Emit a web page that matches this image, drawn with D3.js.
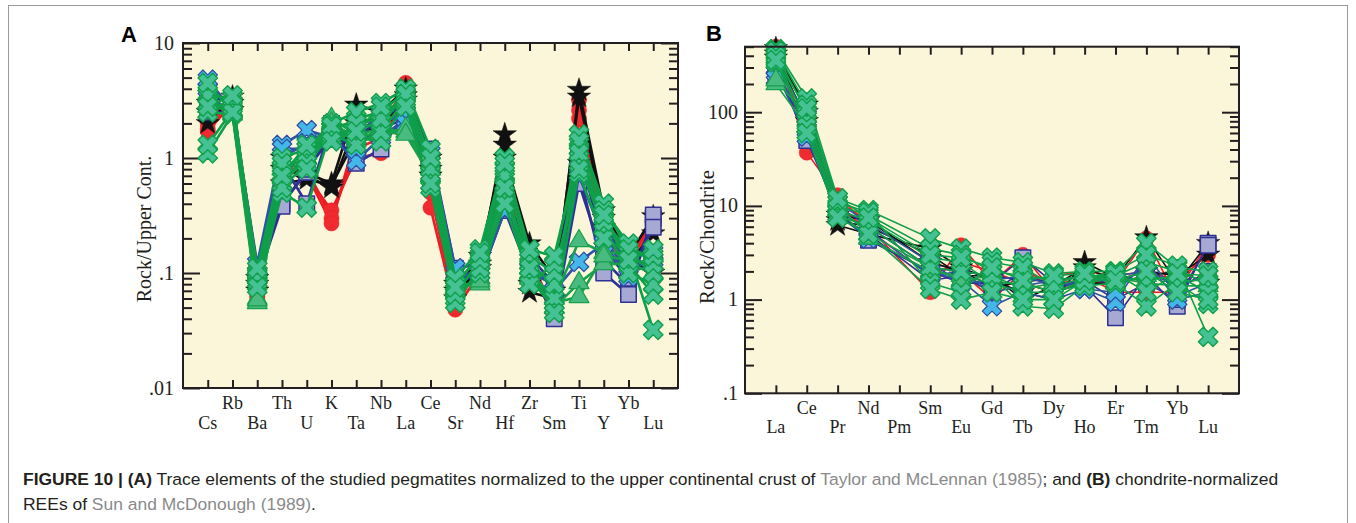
<!DOCTYPE html>
<html><head><meta charset="utf-8">
<script src="https://cdn.jsdelivr.net/npm/d3@7"></script>
<style>body{margin:0;background:#fff}svg{display:block}</style>
</head><body>
<svg id="c" width="1356" height="523"></svg>
<script>
// ---------- DATA ----------
const elementsA = ["Cs","Rb","Ba","Th","U","K","Ta","Nb","La","Ce","Sr","Nd","Hf","Zr","Sm","Ti","Y","Yb","Lu"];
const elementsB = ["La","Ce","Pr","Nd","Pm","Sm","Eu","Gd","Tb","Dy","Ho","Er","Tm","Yb","Lu"];
const yTicksA = [0.01, 0.1, 1, 10];
const yTickLabelsA = [".01", ".1", "1", "10"];
const yTicksB = [0.1, 1, 10, 100];
const yTickLabelsB = [".1", "1", "10", "100"];

// Panel A: rock / upper continental crust
const redCirclesA = [
  [1.7, 3.0, 0.058, 0.9, 0.7, 0.35, 1.0, 1.1, 4.5, 0.37, 0.048, 0.1, 1.0, 0.12, 0.04, 3.2, 0.3, 0.12, 0.3],
  [2.0, 2.8, 0.062, 0.7, 0.8, 0.3, 1.2, 1.5, 4.2, 0.5, 0.05, 0.12, 0.8, 0.1, 0.05, 2.6, 0.25, 0.1, 0.28],
  [1.8, 3.2, 0.065, 0.8, 0.72, 0.27, 1.6, 2.0, 4.0, 0.8, 0.06, 0.11, 0.7, 0.14, 0.045, 2.2, 0.22, 0.11, 0.32]
];
const blackStarsA = [
  [2.0, 3.4, 0.07, 1.0, 0.74, 0.6, 2.9, 2.5, 4.0, 1.0, 0.06, 0.12, 1.6, 0.068, 0.06, 3.9, 0.35, 0.14, 0.31],
  [2.5, 3.0, 0.08, 0.8, 0.7, 0.55, 2.0, 2.2, 3.5, 0.8, 0.07, 0.14, 1.3, 0.08, 0.07, 3.4, 0.3, 0.12, 0.22],
  [3.0, 2.6, 0.09, 0.6, 0.65, 0.58, 1.5, 2.0, 3.2, 0.7, 0.08, 0.11, 1.0, 0.18, 0.09, 0.9, 0.25, 0.13, 0.1]
];
const purpleSquaresA = [
  [3.0, 2.8, 0.1, 0.4, 0.75, 1.8, 0.9, 1.2, 2.5, 1.0, 0.1, 0.1, 0.4, 0.12, 0.04, 0.6, 0.13, 0.078, 0.3],
  [2.5, 2.5, 0.085, 0.38, 0.8, 1.5, 1.3, 1.8, 2.2, 0.6, 0.09, 0.09, 0.35, 0.1, 0.06, 0.75, 0.1, 0.065, 0.32],
  [3.5, 3.0, 0.11, 0.9, 0.4, 2.0, 1.5, 2.2, 3.0, 1.2, 0.11, 0.12, 0.5, 0.14, 0.08, 1.2, 0.16, 0.09, 0.25]
];
const blueCrossesA = [
  [4.8, 2.6, 0.12, 1.3, 1.75, 1.5, 0.95, 1.5, 2.2, 0.6, 0.1, 0.09, 0.35, 0.13, 0.07, 0.125, 0.18, 0.093, 0.15],
  [4.0, 3.0, 0.1, 1.0, 1.35, 1.8, 1.2, 2.0, 2.5, 0.9, 0.09, 0.1, 0.45, 0.11, 0.05, 0.7, 0.2, 0.1, 0.12],
  [3.5, 2.5, 0.09, 1.2, 1.2, 1.6, 1.6, 2.4, 2.0, 1.1, 0.11, 0.12, 0.6, 0.1, 0.08, 1.0, 0.25, 0.12, 0.13]
];
const greenTrianglesA = [
  [2.5, 2.4, 0.055, 0.7, 0.9, 2.2, 1.6, 1.8, 1.7, 0.8, 0.08, 0.08, 0.5, 0.1, 0.06, 0.19, 0.15, 0.15, 0.14],
  [3.0, 2.5, 0.06, 0.6, 1.0, 1.9, 1.4, 1.6, 1.8, 0.9, 0.07, 0.09, 0.6, 0.09, 0.05, 0.082, 0.12, 0.12, 0.1],
  [2.8, 2.6, 0.058, 0.8, 1.1, 2.0, 1.5, 1.7, 1.6, 0.7, 0.075, 0.085, 0.55, 0.11, 0.055, 0.062, 0.14, 0.13, 0.12]
];
const greenCrossesA = [
  [1.1, 2.4, 0.08, 0.5, 0.37, 1.8, 1.5, 1.4, 3.0, 0.55, 0.06, 0.1, 0.4, 0.09, 0.05, 1.6, 0.4, 0.15, 0.032],
  [1.3, 2.6, 0.09, 0.6, 1.1, 1.5, 1.8, 2.0, 3.5, 0.7, 0.07, 0.12, 0.6, 0.1, 0.06, 1.2, 0.3, 0.12, 0.065],
  [2.5, 3.0, 0.1, 0.8, 1.0, 1.7, 2.2, 2.5, 3.8, 0.9, 0.08, 0.14, 0.8, 0.12, 0.08, 0.9, 0.25, 0.1, 0.08],
  [3.0, 2.8, 0.085, 1.0, 1.2, 2.0, 2.5, 3.0, 4.0, 1.2, 0.09, 0.16, 1.0, 0.14, 0.1, 0.74, 0.2, 0.15, 0.1],
  [3.5, 3.3, 0.095, 0.55, 0.9, 1.6, 1.3, 1.7, 3.2, 0.8, 0.055, 0.11, 0.7, 0.08, 0.12, 1.4, 0.35, 0.18, 0.12],
  [4.5, 2.5, 0.11, 0.9, 0.8, 1.9, 2.0, 2.2, 3.6, 1.0, 0.065, 0.13, 0.9, 0.16, 0.14, 1.1, 0.28, 0.16, 0.14],
  [2.8, 3.5, 0.075, 0.7, 1.3, 1.4, 1.7, 2.8, 2.8, 0.6, 0.075, 0.15, 0.55, 0.11, 0.045, 0.8, 0.32, 0.13, 0.16]
];

// Panel B: rock / chondrite (Pm not analysed -> null)
const redCirclesB = [
  [500, 37, 13, 6, null, 1.2, 3.8, 1.5, 3.0, 1.2, 1.8, 1.2, 1.2, 1.2, 4.0],
  [450, 60, 11, 7, null, 2.5, 2.0, 1.0, 2.0, 1.5, 1.6, 1.5, 4.5, 1.0, 3.8],
  [400, 80, 10, 5.5, null, 1.8, 2.5, 2.0, 1.5, 1.8, 2.0, 1.8, 2.0, 1.6, 3.0]
];
const blackStarsB = [
  [480, 100, 6.2, 5, null, 3.5, 2.2, 1.6, 1.2, 1.0, 2.5, 1.7, 4.6, 1.5, 4.0],
  [420, 80, 7, 6, null, 3.0, 1.8, 1.8, 1.0, 1.4, 2.2, 1.6, 2.0, 1.8, 3.0],
  [380, 120, 8, 7, null, 2.5, 2.0, 1.4, 1.5, 1.2, 1.5, 1.5, 1.8, 2.0, 1.5]
];
const purpleSquaresB = [
  [300, 50, 9, 4.3, null, 2.0, 1.5, 1.5, 2.8, 1.5, 1.4, 0.64, 1.8, 0.85, 4.0],
  [250, 70, 8, 5, null, 1.6, 1.8, 1.2, 2.0, 1.3, 1.6, 1.0, 1.5, 1.0, 3.8],
  [350, 90, 10, 6, null, 2.2, 2.0, 1.8, 1.6, 1.6, 1.8, 1.4, 2.2, 1.3, 2.0]
];
const blueCrossesB = [
  [265, 55, 8, 4.5, null, 2.0, 1.6, 0.85, 1.2, 1.0, 1.3, 0.95, 3.0, 1.1, 1.5],
  [300, 65, 9, 5.5, null, 1.8, 2.0, 1.2, 1.4, 1.6, 1.3, 1.2, 2.5, 1.0, 1.2],
  [230, 90, 11, 6.5, null, 2.5, 1.5, 1.6, 1.8, 1.4, 1.6, 1.8, 2.0, 1.4, 1.8]
];
const greenTrianglesB = [
  [200, 70, 9, 4.5, null, 2.0, 1.8, 1.5, 1.5, 1.2, 1.6, 1.7, 1.5, 1.4, 1.4],
  [220, 90, 10, 5, null, 2.2, 1.6, 1.8, 1.3, 1.5, 1.8, 1.5, 1.8, 1.6, 1.6]
];
const greenCrossesB = [
  [470, 140, 12, 9, null, 4.5, 3.5, 2.8, 2.5, 1.9, 2.0, 2.0, 4.0, 2.2, 2.0],
  [420, 100, 10, 8, null, 3.5, 3.0, 2.0, 1.8, 1.6, 1.8, 1.8, 2.5, 2.0, 1.5],
  [380, 80, 9, 7, null, 2.8, 2.5, 1.5, 1.2, 1.2, 1.5, 1.7, 1.6, 1.8, 1.2],
  [340, 70, 8, 6, null, 2.2, 2.0, 1.8, 0.85, 0.8, 1.4, 1.5, 0.85, 1.5, 0.9],
  [450, 120, 11, 8.5, null, 1.5, 1.2, 2.5, 2.2, 1.4, 1.7, 2.0, 3.0, 2.3, 0.4],
  [400, 60, 7.5, 5, null, 1.3, 1.0, 1.2, 1.0, 1.0, 1.6, 1.9, 1.2, 1.9, 1.8],
  [360, 110, 12, 7.5, null, 3.0, 2.8, 2.2, 1.6, 1.8, 1.9, 1.6, 2.0, 1.2, 1.0]
];

// ---------- STYLES ----------
const INK = "#231f20";
const CREAM = "#fbf5da";
const serif = "'Liberation Serif','Times New Roman',serif";
const styles = {
  red:    {line:"#ed1c24", fill:"#ef2b2f", stroke:"#ed1c24", sw:0.5, shape:"circle"},
  black:  {line:"#111111", fill:"#111111", stroke:"#111111", sw:0.5, shape:"star"},
  purple: {line:"#2e3192", fill:"#a7a9d5", stroke:"#2e3192", sw:1.5, shape:"square"},
  blue:   {line:"#2f53a3", fill:"#45b6e8", stroke:"#2e4da0", sw:1.2, shape:"cross"},
  tri:    {line:"#19a04c", fill:"#49ba80", stroke:"#19a04c", sw:1.2, shape:"triangle"},
  green:  {line:"#0f9f4a", fill:"#45c194", stroke:"#10a04b", sw:1.4, shape:"cross"}
};

const svg = d3.select("#c");
// outer figure frame
svg.append("rect").attr("x", 8.5).attr("y", 5.5).attr("width", 1339).attr("height", 540)
  .attr("fill", "none").attr("stroke", "#9a9a9a").attr("stroke-width", 1);

function symbolPath(shape, k) {
  if (shape === "circle") return d3.symbol(d3.symbolCircle, 180 * k)();
  if (shape === "star") return d3.symbol(d3.symbolStar, 170 * k)();
  if (shape === "square") return d3.symbol(d3.symbolSquare, 240 * k)();
  if (shape === "triangle") return d3.symbol(d3.symbolTriangle, 170 * k)();
  return d3.symbol(d3.symbolCross, 235 * k)();
}

function panel(cfg) {
  const {x, y, cats, groups, majors, majorLabels, minors, lw, labelBase, tickLabelX, ylab, ylabX, ylabY, ylabSize, letter, letterX, letterY} = cfg;
  const g = svg.append("g");
  const [x0, x1] = x.range();
  const [y0, y1] = y.range(); // y0 bottom, y1 top
  g.append("rect").attr("x", x0).attr("y", y1).attr("width", x1 - x0).attr("height", y0 - y1).attr("fill", CREAM);

  const catIdx = d3.range(1, cats.length + 1);
  const styleAxis = sel => { sel.select(".domain").remove(); sel.selectAll("line").attr("stroke", INK).attr("stroke-width", 2); sel.selectAll("text").remove(); };
  g.append("g").attr("transform", `translate(0,${y0})`).call(d3.axisBottom(x).tickValues(catIdx).tickSizeInner(-8).tickSizeOuter(0)).call(styleAxis);
  g.append("g").attr("transform", `translate(0,${y1})`).call(d3.axisTop(x).tickValues(catIdx).tickSizeInner(-8).tickSizeOuter(0)).call(styleAxis);
  g.append("g").attr("transform", `translate(${x0},0)`).call(d3.axisLeft(y).tickValues(majors).tickSizeInner(-17).tickSizeOuter(0)).call(styleAxis);
  g.append("g").attr("transform", `translate(${x0},0)`).call(d3.axisLeft(y).tickValues(minors).tickSizeInner(-9).tickSizeOuter(0)).call(styleAxis);
  g.append("g").attr("transform", `translate(${x1},0)`).call(d3.axisRight(y).tickValues(majors).tickSizeInner(-17).tickSizeOuter(0)).call(styleAxis);
  g.append("g").attr("transform", `translate(${x1},0)`).call(d3.axisRight(y).tickValues(minors).tickSizeInner(-9).tickSizeOuter(0)).call(styleAxis);

  // data
  const line = d3.line().x(d => x(d.i + 1)).y(d => y(d.v));
  const plot = g.append("g");
  groups.forEach(([key, rows, k]) => {
    const st = styles[key];
    const gg = plot.append("g");
    rows.forEach(r => {
      const pts = r.map((v, i) => ({i, v})).filter(d => d.v != null);
      gg.append("path").attr("d", line(pts)).attr("fill", "none").attr("stroke", st.line).attr("stroke-width", lw).attr("stroke-linejoin", "round");
    });
    rows.forEach(r => {
      const pts = r.map((v, i) => ({i, v})).filter(d => d.v != null);
      gg.selectAll(null).data(pts).join("path")
        .attr("d", symbolPath(st.shape, k))
        .attr("transform", d => `translate(${x(d.i + 1)},${y(d.v)})` + (st.shape === "cross" ? " rotate(45)" : ""))
        .attr("fill", st.fill).attr("stroke", st.stroke).attr("stroke-width", st.sw).attr("stroke-linejoin", "round");
    });
  });

  // frame
  g.append("rect").attr("x", x0).attr("y", y1).attr("width", x1 - x0).attr("height", y0 - y1)
    .attr("fill", "none").attr("stroke", INK).attr("stroke-width", 2);

  // tick labels
  g.selectAll(null).data(majors).join("text")
    .attr("x", tickLabelX).attr("y", d => y(d) + 6.5).attr("text-anchor", "end")
    .attr("font-family", serif).attr("font-size", 20).attr("fill", INK)
    .text((d, i) => majorLabels[i]);
  // category labels (two staggered rows)
  g.selectAll(null).data(cats).join("text")
    .attr("x", (d, i) => x(i + 1)).attr("y", (d, i) => i % 2 === 1 ? labelBase[0] : labelBase[1])
    .attr("text-anchor", "middle").attr("font-family", serif).attr("font-size", 18).attr("fill", INK)
    .text(d => d);
  // y title
  g.append("text").attr("transform", `translate(${ylabX},${ylabY}) rotate(-90)`)
    .attr("text-anchor", "middle").attr("font-family", serif).attr("font-size", ylabSize).attr("fill", INK).text(ylab);
  // panel letter
  g.append("text").attr("x", letterX).attr("y", letterY).attr("font-family", "'Liberation Sans',Arial,sans-serif")
    .attr("font-weight", "bold").attr("font-size", 22).attr("fill", "#000").text(letter);
}

function minorTicks(lo, hi) {
  const out = [];
  for (let d = Math.floor(Math.log10(lo)); d < Math.ceil(Math.log10(hi)); d++)
    for (let m = 2; m <= 9; m++) { const v = m * Math.pow(10, d); if (v > lo && v <= hi) out.push(+v.toPrecision(3)); }
  return out;
}

panel({
  x: d3.scaleLinear().domain([0, elementsA.length + 1]).range([183, 678]),
  y: d3.scaleLog().domain([0.01, 10]).range([388, 43]),
  cats: elementsA,
  groups: [["red", redCirclesA, 1], ["black", blackStarsA, 1], ["purple", purpleSquaresA, 1], ["blue", blueCrossesA, 1], ["tri", greenTrianglesA, 1], ["green", greenCrossesA, 1]],
  majors: yTicksA, majorLabels: yTickLabelsA, minors: minorTicks(0.01, 10),
  lw: 2.6, labelBase: [409, 429], tickLabelX: 174,
  ylab: "Rock/Upper Cont.", ylabX: 151, ylabY: 229, ylabSize: 20,
  letter: "A", letterX: 121, letterY: 42
});

panel({
  x: d3.scaleLinear().domain([0, elementsB.length + 1]).range([745, 1239]),
  y: d3.scaleLog().domain([0.1, 500]).range([393.3, 46.7]),
  cats: elementsB,
  groups: [["red", redCirclesB, 1], ["black", blackStarsB, 1], ["purple", purpleSquaresB, 1], ["blue", blueCrossesB, 1], ["tri", greenTrianglesB, 1], ["green", greenCrossesB, 1]],
  majors: yTicksB, majorLabels: yTickLabelsB, minors: minorTicks(0.1, 500),
  lw: 1.6, labelBase: [414, 433], tickLabelX: 738,
  ylab: "Rock/Chondrite", ylabX: 714, ylabY: 237, ylabSize: 21,
  letter: "B", letterX: 706, letterY: 41
});

// ---------- CAPTION ----------
const capFont = "'Liberation Sans',Arial,sans-serif";
const line1 = [
  ["FIGURE 10 | (A)", "bold", INK], [" Trace elements of the studied pegmatites normalized to the upper continental crust of ", "normal", INK],
  ["Taylor and McLennan (1985)", "normal", "#8a8a8a"], ["; and ", "normal", INK], ["(B)", "bold", INK], [" chondrite-normalized", "normal", INK]
];
const line2 = [["REEs of ", "normal", INK], ["Sun and McDonough (1989)", "normal", "#8a8a8a"], [".", "normal", INK]];
function capLine(parts) {
  const t = svg.append("text").attr("x", 0).attr("y", 0).attr("font-family", capFont).attr("font-size", 17)
    .attr("xml:space", "preserve").style("white-space", "pre");
  parts.forEach(p => t.append("tspan").attr("font-weight", p[1]).attr("fill", p[2]).text(p[0]));
  return t;
}
const c1 = capLine(line1), c2 = capLine(line2);
const w1 = c1.node().getComputedTextLength();
const sx = 1256 / w1;
c1.attr("transform", `translate(23,485) scale(${sx},1)`);
c2.attr("transform", `translate(23,510) scale(${sx},1)`);
</script>
</body></html>
